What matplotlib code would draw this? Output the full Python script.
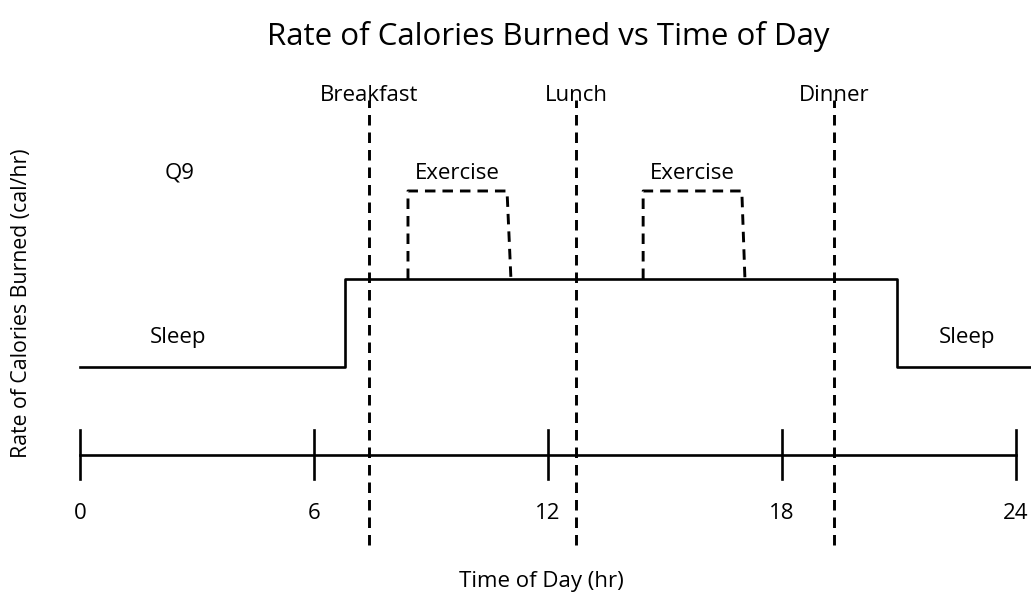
import matplotlib
matplotlib.use('Agg')
import matplotlib.pyplot as plt

plt.rcParams['font.family'] = ['Open Sans', 'DejaVu Sans']

# data
tick_hours = [0, 6, 12, 18, 24]
meal_names = ['Breakfast', 'Lunch', 'Dinner']
meal_hours = [7.41, 12.72, 19.33]
rate_hours = [0, 6.8, 6.8, 20.95, 20.95, 24.35]
rate_vals = [1, 1, 2, 2, 1, 1]
exercise_hours = [[8.41, 8.41, 10.95, 11.05], [14.44, 14.44, 16.97, 17.05]]
exercise_vals = [2, 3, 3, 2]

fig = plt.figure(figsize=(10.31, 6.02), dpi=100)
ax = fig.add_axes([0, 0, 1, 1])
ax.set_xlim(-2.051, 24.385)
ax.set_ylim(-1.670, 5.170)
ax.axis('off')

dash = (0, (3.6, 2.4))
fs = 16

# time axis
ax.plot([tick_hours[0], tick_hours[-1]], [0, 0], color='black', lw=1.9)
for h in tick_hours:
    ax.plot([h, h], [-0.27, 0.28], color='black', lw=1.9)
    ax.text(h, -0.66, str(h), ha='center', va='center', fontsize=fs)

# meals
for name, h in zip(meal_names, meal_hours):
    ax.plot([h, h], [-1.02, 4.03], color='black', lw=2.1, linestyle=dash)
    ax.text(h, 4.085, name, ha='center', va='center', fontsize=fs)

# rate curve
ax.plot(rate_hours, rate_vals, color='black', lw=1.9)

# exercise
for xs in exercise_hours:
    ax.plot(xs, exercise_vals, color='black', lw=2.1, linestyle=dash)
    ax.text((xs[0] + xs[2]) / 2, 3.20, 'Exercise', ha='center', va='center', fontsize=fs)

ax.text(2.56, 3.20, 'Q9', ha='center', va='center', fontsize=fs)
ax.text(2.51, 1.33, 'Sleep', ha='center', va='center', fontsize=fs)
ax.text(22.74, 1.33, 'Sleep', ha='center', va='center', fontsize=fs)

ax.text(12.0, 4.75, 'Rate of Calories Burned vs Time of Day', ha='center', va='center', fontsize=22.5)
ax.text(11.82, -1.44, 'Time of Day (hr)', ha='center', va='center', fontsize=fs)
ax.text(-1.49, 1.72, 'Rate of Calories Burned (cal/hr)', ha='center', va='center',
        rotation=90, fontsize=15.3)

fig.savefig('out.png', dpi=100)
